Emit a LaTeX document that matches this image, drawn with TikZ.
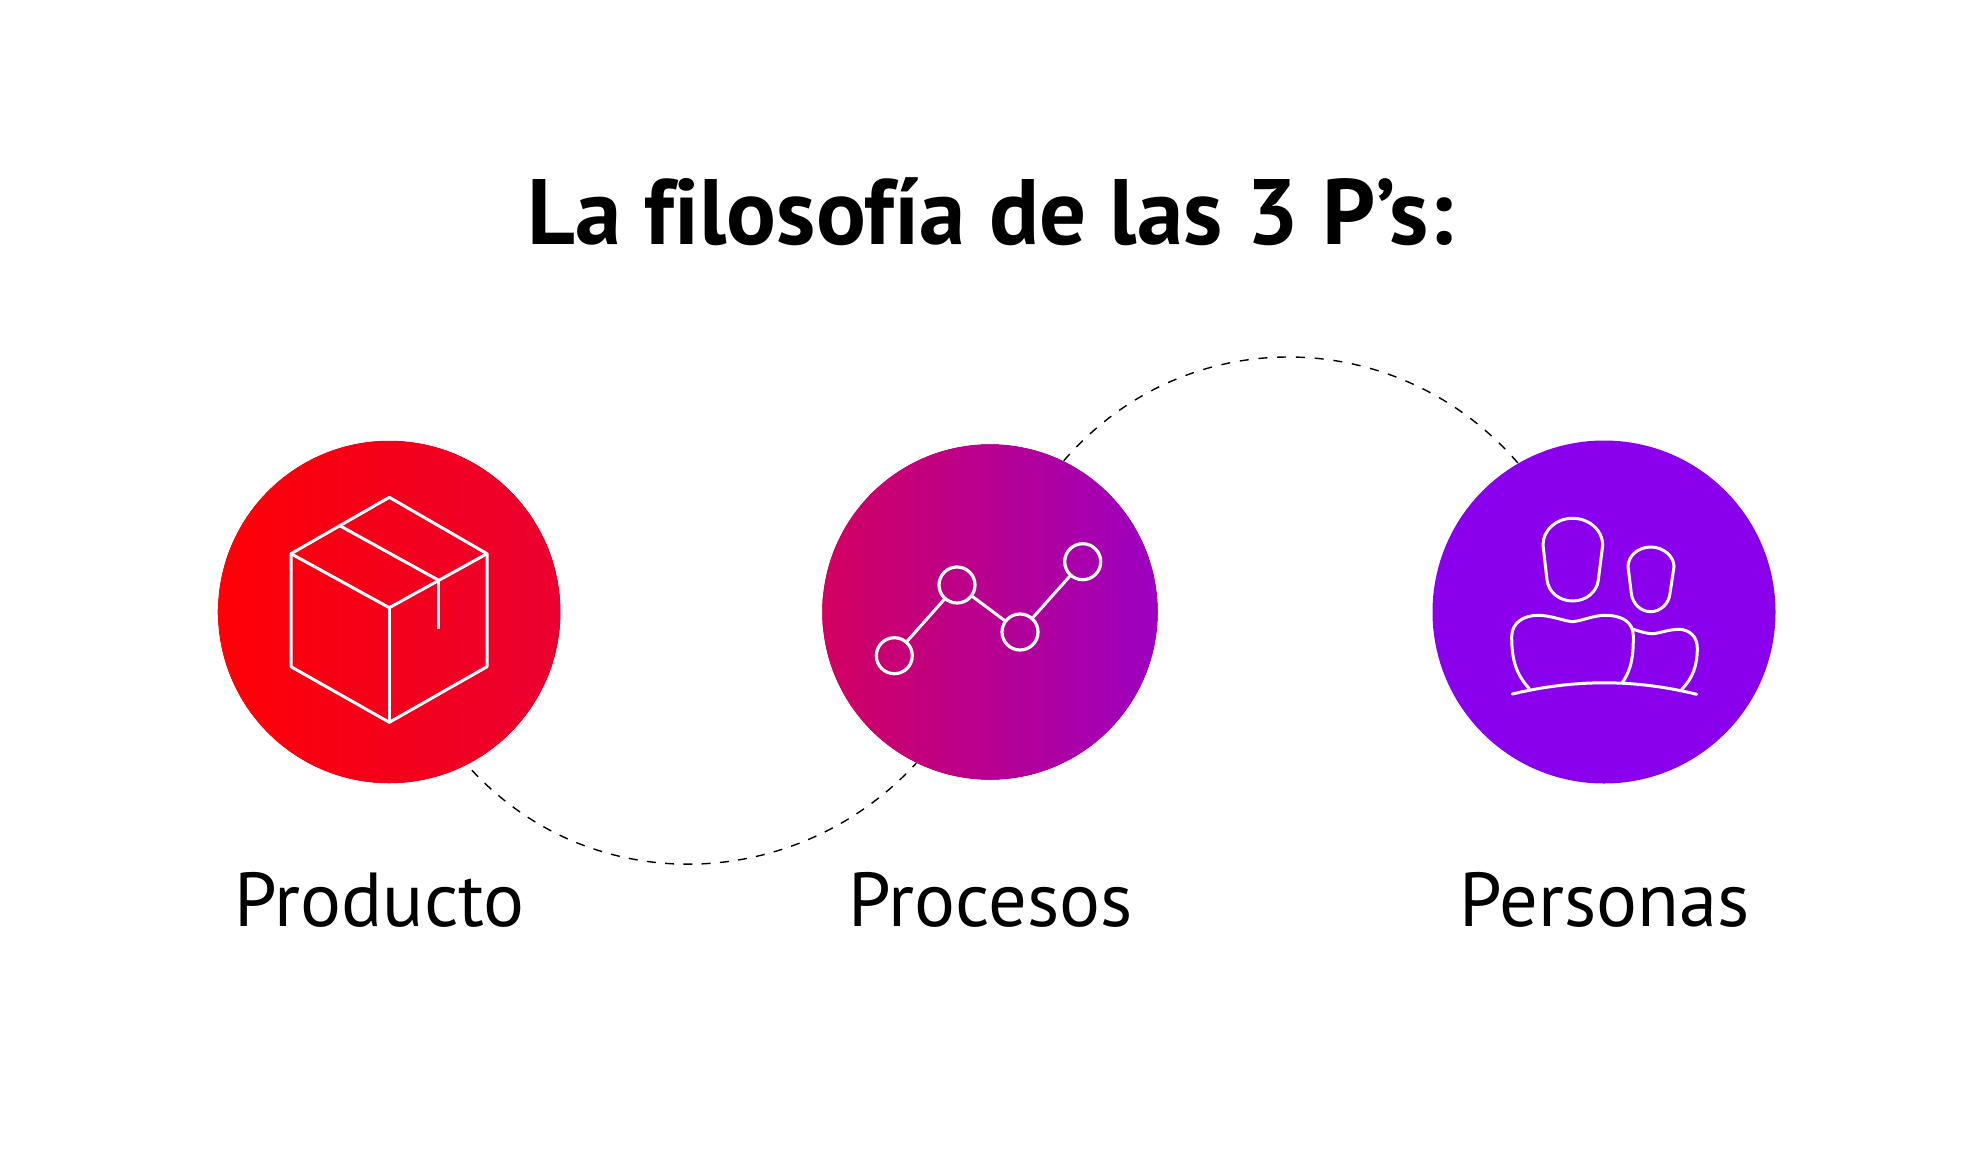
\documentclass[tikz,border=0pt]{standalone}
\usepackage{fontspec}
\setmainfont[Ligatures=NoCommon]{PT Sans}
\tikzset{
  disc/.style={circle,inner sep=0pt,minimum size=#1,draw=none},
  ring/.style={draw=white,line width=3pt},
  icon/.style={draw=white,line width=3pt,line join=round,line cap=round},
  dot/.style={circle,inner sep=0pt,minimum size=36pt,draw=white,line width=3.2pt},
  link/.style={draw=black,line width=1.4pt},
  titletext/.style={anchor=base,text=black,font=\fontsize{92.9}{92.9}\selectfont\bfseries},
  labeltext/.style={anchor=base,text=black,font=\fontsize{76.5}{76.5}\selectfont}
}
\begin{document}
\begin{tikzpicture}[x=1pt,y=-1pt]
\useasboundingbox (0,0) rectangle (1980,1156);
\fill[white] (0,0) rectangle (1980,1156);
\node[titletext] (title) at (990.5,244) {La filosofía de las 3 P’s:};
\node[disc=343pt,left color={rgb,255:red,255;green,0;blue,6},right color={rgb,255:red,234;green,0;blue,48}] (c1) at (389.2,612) {};
\node[disc=336pt,left color={rgb,255:red,211;green,0;blue,96},right color={rgb,255:red,156;green,0;blue,194}] (c2) at (990,612) {};
\node[disc=343pt,fill={rgb,255:red,139;green,0;blue,236}] (c3) at (1604,612) {};
\draw[ring] (c1.center) circle (173);
\draw[ring] (c2.center) circle (169.5);
\node[labeltext] (l1) at (379.5,926.5) {Producto};
\node[labeltext] (l2) at (990.5,926.5) {Procesos};
\node[labeltext] (l3) at (1604.5,926.5) {Personas};
% dashed links
\draw[link,dash pattern=on 9pt off 9.3pt,dash phase=11.3pt] (c1.-63.5) .. controls (588,901) and (796,894) .. (c2.-116.7);
\draw[link,dash pattern=on 9pt off 9.78pt] (c2.64) .. controls (1185,320) and (1398,324) .. (c3.120);
% box
\draw[icon] (389.3,497.3) -- (487,553.7) -- (487,666.7) -- (389.3,722.3) -- (291,666.7) -- (291,553.7) -- cycle;
\draw[icon] (291,553.7) -- (389.3,607.7) -- (487,553.7);
\draw[icon] (389.3,607.7) -- (389.3,722.3);
\draw[icon] (340.3,526) -- (438.7,580.3);
\draw[icon,line cap=butt] (438.7,580.3) -- (438.7,629);
% chart
\node[dot] (d1) at (894.3,655.7) {};
\node[dot] (d2) at (957,585) {};
\node[dot] (d3) at (1020,632) {};
\node[dot] (d4) at (1082.7,561.7) {};
\draw[icon,line cap=butt] (d1) -- (d2);
\draw[icon,line cap=butt] (d2) -- (d3);
\draw[icon,line cap=butt] (d3) -- (d4);
% people
\draw[icon] (1572.7,518.3) .. controls (1556,518.3) and (1543,530) .. (1543,545) -- (1547,580) .. controls (1548.5,592) and (1559,601) .. (1572.7,601) .. controls (1586,601) and (1597,592) .. (1598.3,580) -- (1602.7,545) .. controls (1602.7,530) and (1589,518.3) .. cycle;
\draw[icon] (1650.7,547) .. controls (1638,547) and (1628,556) .. (1628,566.7) -- (1631.3,593.3) .. controls (1632.5,604) and (1641,611.7) .. (1650.7,611.7) .. controls (1660,611.7) and (1669,604) .. (1670,593.3) -- (1674,566.7) .. controls (1674,556) and (1663,547) .. cycle;
\draw[icon] (1529.3,688.7) .. controls (1516,674) and (1511.7,660) .. (1511.7,636.7) .. controls (1511.7,623) and (1523,615.3) .. (1538.3,615.3) .. controls (1549,615.3) and (1562,620) .. (1568,621) .. controls (1571,622) and (1574,622) .. (1577,621) .. controls (1583,620) and (1595,615.3) .. (1605,615.3) .. controls (1622,615.3) and (1633.3,622) .. (1633.3,636) .. controls (1633.3,656) and (1632,668) .. (1622.3,682.7);
\draw[icon] (1633.3,629.3) .. controls (1640,631.5) and (1647,633.7) .. (1652.3,633.7) .. controls (1658,633.7) and (1669,629.3) .. (1678.3,629.3) .. controls (1690,629.3) and (1697.3,637) .. (1697.3,648.3) .. controls (1697.3,665) and (1693,678) .. (1681.7,689.3);
\draw[icon] (1512.3,694) .. controls (1575,679) and (1635,679) .. (1696.7,694.3);
\end{tikzpicture}
\end{document}
